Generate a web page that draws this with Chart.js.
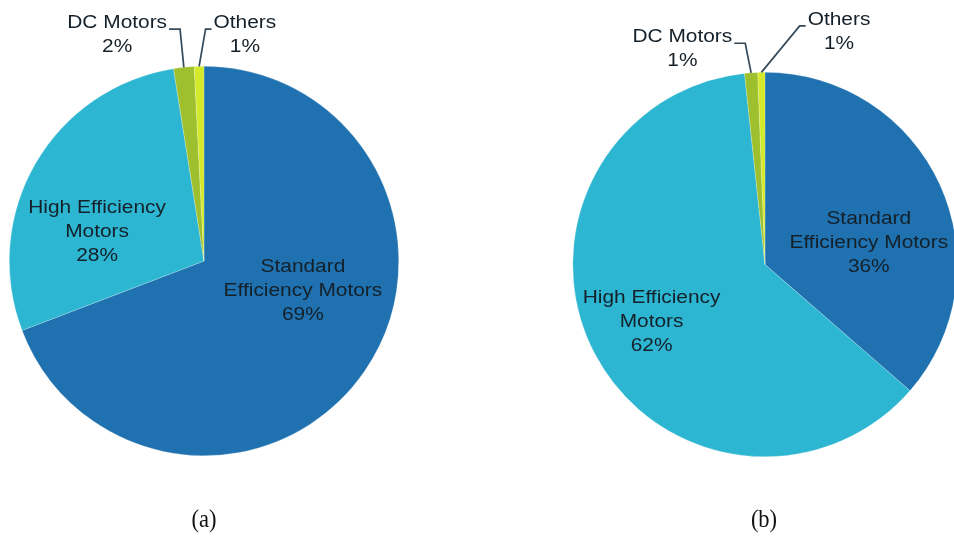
<!DOCTYPE html>
<html>
<head>
<meta charset="utf-8">
<script src="https://cdn.jsdelivr.net/npm/chart.js@4"></script>
<style>
  html, body { margin: 0; padding: 0; background: #fff; overflow: hidden; }
  body { width: 954px; height: 541px; position: relative; }
  .box { position: absolute; top: 0; height: 541px; }
  #boxA { left: 0; width: 477px; }
  #boxB { left: 477px; width: 500px; }
  .cap { position: absolute; top: 505px; font-family: "Liberation Serif", serif; font-size: 25px; color: #111; transform: translateX(-50%) scaleX(0.9); }
</style>
</head>
<body>
<div class="box" id="boxA"><canvas id="pieA"></canvas></div>
<div class="box" id="boxB"><canvas id="pieB"></canvas></div>
<div class="cap" style="left:204px">(a)</div>
<div class="cap" style="left:764px">(b)</div>
<script>
const categories = ["Standard Efficiency Motors", "High Efficiency Motors", "DC Motors", "Others"];
const labelLines = [["Standard", "Efficiency Motors"], ["High Efficiency", "Motors"], ["DC Motors"], ["Others"]];
const valuesA = [69.2, 28.3, 1.7, 0.8];
const valuesB = [36.4, 61.9, 1.1, 0.6];
const colors = ["#1f71af", "#2db6d1", "#9fc02e", "#d3ea2a"];

// where each label block sits, in units of the pie radius from its centre
const placeA = [
  { dx: 0.508, dy: 0.154 },
  { dx: -0.549, dy: -0.149 },
  { dx: -0.446, dy: -1.16, leader: "right" },
  { dx: 0.21, dy: -1.16, leader: "left" }
];
const placeB = [
  { dx: 0.54, dy: -0.11 },
  { dx: -0.59, dy: 0.30 },
  { dx: -0.43, dy: -1.12, leader: "right" },
  { dx: 0.385, dy: -1.21, leader: "left" }
];

const labelPlugin = {
  id: "sliceLabels",
  afterDatasetsDraw(chart, args, opts) {
    const ctx = chart.ctx;
    const meta = chart.getDatasetMeta(0);
    const data = chart.data.datasets[0].data;
    const total = data.reduce((a, b) => a + b, 0);
    const lineH = 24;
    const stretch = 1.16;
    ctx.save();
    ctx.font = "18px 'Liberation Sans', Arial, sans-serif";
    ctx.textAlign = "center";
    ctx.textBaseline = "middle";
    meta.data.forEach((arc, i) => {
      const p = opts.place[i];
      const r = arc.outerRadius;
      const cx = arc.x + p.dx * r;
      const cy = arc.y + p.dy * r;
      const lines = labelLines[i].concat([Math.round(data[i] / total * 100) + "%"]);
      const top = cy - (lines.length - 1) * lineH / 2;
      ctx.fillStyle = "#14202a";
      lines.forEach((t, k) => {
        ctx.save();
        ctx.translate(cx, top + k * lineH);
        ctx.scale(stretch, 1);
        ctx.fillText(t, 0, 0);
        ctx.restore();
      });
      if (p.leader) {
        const w = ctx.measureText(labelLines[i][0]).width * stretch;
        const mid = (arc.startAngle + arc.endAngle) / 2;
        const ex = arc.x + Math.cos(mid) * r;
        const ey = arc.y + Math.sin(mid) * r;
        const sx = p.leader === "right" ? cx + w / 2 + 2 : cx - w / 2 - 2;
        const ly = top + 6;
        const kx = p.leader === "right" ? sx + 11 : sx - 6;
        ctx.strokeStyle = "#34495a";
        ctx.lineWidth = 1.7;
        ctx.beginPath();
        ctx.moveTo(sx, ly);
        ctx.lineTo(kx, ly);
        ctx.lineTo(ex, ey);
        ctx.stroke();
      }
    });
    ctx.restore();
  }
};

function makePie(id, values, place, pad) {
  return new Chart(document.getElementById(id), {
    type: "pie",
    data: {
      labels: categories,
      datasets: [{
        data: values,
        backgroundColor: colors,
        borderColor: "rgba(255,255,255,0.35)",
        borderWidth: 0.6
      }]
    },
    options: {
      responsive: true,
      maintainAspectRatio: false,
      animation: false,
      events: [],
      layout: { padding: pad },
      plugins: {
        legend: { display: false },
        tooltip: { enabled: false },
        sliceLabels: { place: place }
      }
    },
    plugins: [labelPlugin]
  });
}

makePie("pieA", valuesA, placeA, { left: 9, right: 78, top: 66, bottom: 85 });
makePie("pieB", valuesB, placeB, { left: 91, right: 15, top: 72, bottom: 84 });
</script>
</body>
</html>
